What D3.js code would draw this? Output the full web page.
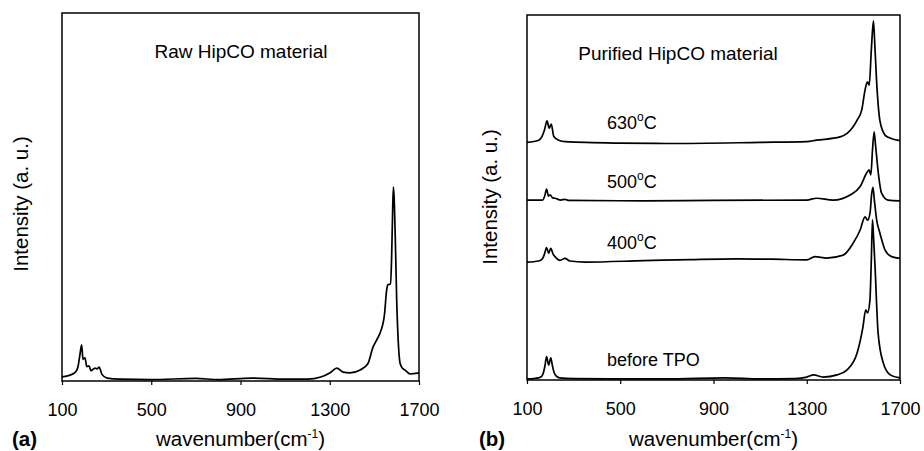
<!DOCTYPE html>
<html>
<head>
<meta charset="utf-8">
<script src="https://cdn.jsdelivr.net/npm/d3@7"></script>
<style>
    html, body { margin: 0; padding: 0; background: #fff; }
    svg { display: block; font-family: 'Liberation Sans', Arial, sans-serif; }
    .frame { fill: none; stroke: #000; stroke-width: 1.5; }
    .spectrum { fill: none; stroke: #000; stroke-width: 1.7; stroke-linejoin: round; }
    .tick line { stroke: #000; stroke-width: 1.2; }
    .tick text { font-size: 18px; fill: #000; }
    .label { font-size: 18px; fill: #000; }
    .title { font-size: 19px; fill: #000; }
    .axis-title { font-size: 20.5px; fill: #000; }
</style>
</head>
<body>
<svg id="chart" width="924" height="451"></svg>
<script>
const wnTicks = [100, 500, 900, 1300, 1700]

// (a) raw HipCO spectrum
const rawWn = [100, 136, 163, 172, 180, 188, 194, 203, 211, 221, 230, 248, 257, 266, 279, 302, 360,
    500, 700, 800, 950, 1100, 1200, 1260, 1300, 1332, 1360, 1390, 1436, 1470, 1494, 1510, 1525,
    1545, 1555, 1560, 1572, 1577, 1581, 1585, 1588, 1595, 1600, 1606, 1615, 1625, 1637, 1660, 1700]
const rawI = [1.1, 1.6, 2.6, 4.0, 7.0, 9.8, 5.9, 6.3, 3.9, 4.1, 2.8, 3.5, 3.3, 3.8, 1.8, 0.8, 0.5,
    0.4, 0.7, 0.4, 0.8, 0.5, 0.5, 1.1, 2.2, 3.5, 2.4, 2.2, 3.0, 4.6, 9.2, 11.1, 13.0,
    17.9, 24.7, 26.1, 26.4, 32.9, 43.8, 52.7, 50.5, 35.6, 22.0, 12.0, 4.9, 3.5, 3.0, 1.9, 2.2]

// (b) purified material, intensities relative to each baseline
const beforeWn = [100, 150, 163, 170, 177, 184, 193, 202, 209, 216, 227, 240, 300, 500, 700, 950, 1100, 1250,
    1300, 1330, 1370, 1430, 1473, 1516, 1541, 1553, 1561, 1571, 1577, 1582, 1586, 1593, 1606,
    1628, 1658, 1700]
const beforeI = [0, 0.3, 0.7, 1.6, 3.6, 6.1, 3.8, 5.8, 3.6, 1.8, 0.7, 0.3, 0.1, 0, 0, 0.3, 0, 0.1,
    0.5, 1.1, 0.5, 1.1, 2.5, 7.1, 14.2, 18.9, 18.1, 21.6, 32.6, 43.6, 39.5, 30.7, 12.6,
    4.4, 1.1, 0.3]

const t400Wn = [100, 150, 167, 175, 184, 193, 202, 212, 220, 242, 263, 284, 350, 600, 800, 1000, 1150,
    1300, 1335, 1386, 1456, 1499, 1529, 1550, 1561, 1572, 1578, 1584, 1590, 1600, 1614, 1636,
    1664, 1700]
const t400I = [0, 0.3, 1.0, 2.2, 4.0, 2.4, 3.8, 2.2, 1.5, 0.5, 1.0, 0.3, 0, 0.4, 0.7, 0.9, 0.8,
    0.6, 1.5, 1.1, 1.9, 5.2, 8.8, 12.4, 11.5, 13.7, 18.4, 20.5, 17.0, 11.5, 7.9, 3.3,
    1.5, 1.0]

const t500Wn = [100, 150, 167, 176, 184, 192, 199, 210, 220, 245, 263, 276, 600, 900, 1300, 1342,
    1413, 1486, 1529, 1557, 1567, 1575, 1582, 1589, 1595, 1607, 1621, 1649, 1700]
const t500I = [0.1, 0.1, 0.1, 1.2, 3.1, 1.2, 1.5, 0.7, 0.6, 0.1, 0.3, 0, -0.1, 0, 0.1, 0.6,
    0.1, 1.5, 3.8, 7.5, 8.4, 7.0, 13.8, 18.8, 15.2, 7.5, 2.0, 0.1, -0.1]

const t630Wn = [100, 150, 164, 175, 186, 195, 204, 215, 236, 264, 500, 700, 1100, 1300, 1342,
    1443, 1499, 1516, 1536, 1550, 1560, 1568, 1577, 1586, 1591, 1600, 1614, 1636, 1657, 1700]
const t630I = [-0.1, 0.5, 1.5, 3.3, 5.8, 3.8, 4.9, 1.5, 0.5, 0.1, -0.3, -0.4, -0.1, 0.1, 0.5,
    1.4, 4.2, 6.0, 8.8, 14.2, 16.5, 15.6, 25.2, 33.2, 27.9, 16.2, 5.8, 1.9, 1.1, 0.4]

const stackLabels = ['before TPO', '400', '500', '630']
const stackOffsets = [0.3, 32.3, 49.2, 65.2]
const stackWn = [beforeWn, t400Wn, t500Wn, t630Wn]
const stackI = [beforeI, t400I, t500I, t630I]

const svg = d3.select('#chart')

function makePanel({ left, right, top, bottom, title, titleX, tag, tagX, yLabelX, yLabelY }) {
    const x = d3.scaleLinear().domain([100, 1700]).range([left, right])
    const y = d3.scaleLinear().domain([0, 100]).range([bottom, top])
    const g = svg.append('g')

    // axis ticks + labels
    const axis = d3.axisBottom(x).tickValues(wnTicks).tickSize(4).tickPadding(18).tickFormat(d3.format('d'))
    g.append('g')
        .attr('transform', `translate(0,${bottom})`)
        .call(axis)
        .call(a => a.select('.domain').remove())
        .call(a => a.selectAll('text').attr('font-family', null).attr('font-size', null))

    // frame
    g.append('rect')
        .attr('class', 'frame')
        .attr('x', left).attr('y', top)
        .attr('width', right - left).attr('height', bottom - top)

    g.append('text')
        .attr('class', 'title')
        .attr('x', titleX).attr('y', top + 45)
        .attr('text-anchor', 'middle')
        .text(title)

    // y label
    g.append('text')
        .attr('class', 'axis-title')
        .attr('transform', `translate(${yLabelX},${yLabelY}) rotate(-90)`)
        .attr('text-anchor', 'middle')
        .text('Intensity (a. u.)')

    // x label
    const xl = g.append('text')
        .attr('class', 'axis-title')
        .attr('x', (left + right) / 2).attr('y', 446)
        .attr('text-anchor', 'middle')
    xl.append('tspan').text('wavenumber(cm')
    xl.append('tspan').attr('font-size', 12).attr('dy', -8).text('-1')
    xl.append('tspan').attr('dy', 8).text(')')

    g.append('text')
        .attr('class', 'axis-title')
        .attr('x', tagX).attr('y', 446)
        .attr('font-weight', 'bold')
        .text(tag)

    return { g, x, y }
}

// panel (a)
const pa = makePanel({ left: 62, right: 419, top: 13, bottom: 381,
    title: 'Raw HipCO material', titleX: 241, tag: '(a)', tagX: 12, yLabelX: 28, yLabelY: 204 })

const lineA = d3.line()
    .x(i => pa.x(rawWn[i]))
    .y(i => pa.y(rawI[i]))
    .curve(d3.curveMonotoneX)

pa.g.append('path')
    .attr('class', 'spectrum')
    .attr('d', lineA(d3.range(rawWn.length)))

// panel (b)
const pb = makePanel({ left: 527, right: 900, top: 15, bottom: 380,
    title: 'Purified HipCO material', titleX: 678, tag: '(b)', tagX: 479, yLabelX: 497, yLabelY: 197 })

stackLabels.forEach((name, k) => {
    const wn = stackWn[k]
    const vals = stackI[k]
    const off = stackOffsets[k]
    const line = d3.line()
        .x(i => pb.x(wn[i]))
        .y(i => pb.y(vals[i] + off))
        .curve(d3.curveMonotoneX)

    pb.g.append('path')
        .attr('class', 'spectrum')
        .attr('d', line(d3.range(wn.length)))

    const t = pb.g.append('text')
        .attr('class', 'label')
        .attr('x', pb.x(443))
        .attr('y', pb.y(off + 3.5))
    if (name === 'before TPO') {
        t.text(name)
    } else {
        t.append('tspan').text(name)
        t.append('tspan').attr('font-size', 12).attr('dy', -8).text('o')
        t.append('tspan').attr('dy', 8).text('C')
    }
})
</script>
</body>
</html>
